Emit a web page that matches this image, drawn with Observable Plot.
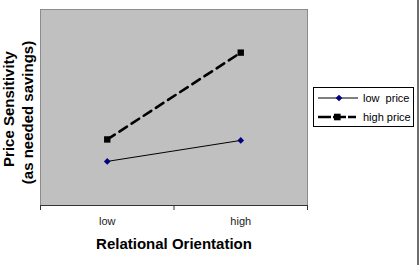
<!DOCTYPE html>
<html>
<head>
<meta charset="utf-8">
<script src="https://cdn.jsdelivr.net/npm/d3@7"></script>
<script src="https://cdn.jsdelivr.net/npm/@observablehq/plot@0.6"></script>
<style>
  html, body { margin: 0; padding: 0; background: #fff; }
  #wrap { position: relative; width: 420px; height: 265px; overflow: hidden; font-family: "Liberation Sans", Arial, sans-serif; }
  #edge { position: absolute; left: 417px; top: 0; width: 2px; height: 265px; background: #6e6e6e; }
  #legend { position: absolute; left: 313px; top: 87px; width: 99px; height: 38px; border: 1px solid #000; background: #fff; }
  .row { position: absolute; left: 4px; height: 16px; display: flex; align-items: center; font-size: 11px; color: #000; white-space: pre; }
  .row svg { display: block; margin-right: 5px; }
</style>
</head>
<body>
<div id="wrap"><div id="edge"></div></div>
<script>
// ---- data ----
const categories = ["low", "high"];
const seriesNames = ["low price", "high price"];
const lowPrice = [2.25, 3.32];
const highPrice = [3.37, 7.8];
const xTitle = "Relational Orientation";
const yTitle1 = "Price Sensitivity";
const yTitle2 = "(as needed savings)";

// ---- build table ----
const rows = [];
categories.forEach((c, i) => {
  rows.push({series: seriesNames[0], cat: c, pos: i + 0.5, value: lowPrice[i]});
  rows.push({series: seriesNames[1], cat: c, pos: i + 0.5, value: highPrice[i]});
});
const lowRows = rows.filter(d => d.series === seriesNames[0]);
const highRows = rows.filter(d => d.series === seriesNames[1]);

const chart = Plot.plot({
  width: 420,
  height: 265,
  marginLeft: 40,
  marginRight: 113,
  marginTop: 9,
  marginBottom: 60,
  style: {fontFamily: "'Liberation Sans', Arial, sans-serif", background: "transparent", overflow: "visible"},
  x: {type: "linear", domain: [0, categories.length], axis: null, label: null},
  y: {domain: [0, 10], axis: null, label: null},
  marks: [
    Plot.frame({fill: "#c0c0c0", stroke: "#8c8c8c"}),
    Plot.ruleY([0], {stroke: "#333"}),
    Plot.axisX({ticks: d3.range(categories.length + 1), tickFormat: () => "", tickSize: 5, stroke: "#333", label: null}),
    Plot.axisX({ticks: categories.map((c, i) => i + 0.5), tickSize: 0, tickPadding: 12, label: null,
      tickFormat: d => categories[Math.floor(d)], fontSize: 11, fill: "#222"}),
    Plot.line(lowRows, {x: "pos", y: "value", stroke: "#000", strokeWidth: 1}),
    Plot.line(highRows, {x: "pos", y: "value", stroke: "#000", strokeWidth: 2.6, strokeDasharray: "9,5.5"}),
    Plot.dot(lowRows, {x: "pos", y: "value", symbol: "diamond2", r: 3, fill: "#000080", stroke: "none"}),
    Plot.dot(highRows, {x: "pos", y: "value", symbol: "square", r: 3.6, fill: "#000", stroke: "none"}),
    Plot.text([xTitle], {frameAnchor: "bottom", dy: 43, fontSize: 15, fontWeight: "bold", fill: "#000"}),
    Plot.text([yTitle1], {frameAnchor: "left", textAnchor: "middle", rotate: -90, dx: -31.5, dy: 1.5, fontSize: 15, fontWeight: "bold", fill: "#000"}),
    Plot.text([yTitle2], {frameAnchor: "left", textAnchor: "middle", rotate: -90, dx: -12, dy: 5, fontSize: 15, fontWeight: "bold", fill: "#000"})
  ]
});
const wrap = document.getElementById("wrap");
wrap.insertBefore(chart, wrap.firstChild);

// ---- legend ----
const legend = document.createElement("div");
legend.id = "legend";
const legendLabels = ["low  price", "high price"];
seriesNames.forEach((name, i) => {
  const row = document.createElement("div");
  row.className = "row";
  row.style.top = (2 + i * 19) + "px";
  const s = d3.create("svg").attr("width", 40).attr("height", 16);
  if (i === 0) {
    s.append("line").attr("x1", 0).attr("x2", 42).attr("y1", 8).attr("y2", 8).attr("stroke", "#000").attr("stroke-width", 1);
    s.append("path").attr("d", d3.symbol(d3.symbolDiamond2, 29)()).attr("transform", "translate(21,8)").attr("fill", "#000080");
  } else {
    s.append("line").attr("x1", 0).attr("x2", 38).attr("y1", 8).attr("y2", 8).attr("stroke", "#000").attr("stroke-width", 2.6).attr("stroke-dasharray", "13,2");
    s.append("rect").attr("x", 16).attr("y", 4.7).attr("width", 6.6).attr("height", 6.6).attr("fill", "#000");
  }
  row.appendChild(s.node());
  const t = document.createElement("span");
  t.textContent = legendLabels[i];
  row.appendChild(t);
  legend.appendChild(row);
});
wrap.appendChild(legend);
</script>
</body>
</html>
